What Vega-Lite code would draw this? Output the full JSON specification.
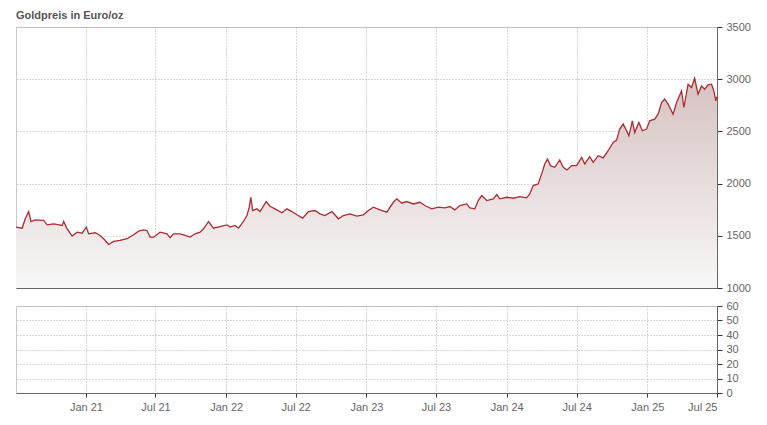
{
  "$schema": "https://vega.github.io/schema/vega-lite/v6.json",
  "background": "white",
  "padding": {"left": 12, "top": 9, "right": 5, "bottom": 5},
  "title": {"text": "Goldpreis in Euro/oz", "anchor": "start", "frame": "group", "fontSize": 11, "fontWeight": "bold", "color": "#555555", "font": "Liberation Sans", "offset": 0},
  "bounds": "flush",
  "spacing": 18,
  "datasets": {
    "gold": [
      {"date": "2020-07-03", "price": 1583},
      {"date": "2020-07-19", "price": 1573},
      {"date": "2020-07-27", "price": 1663},
      {"date": "2020-08-05", "price": 1732},
      {"date": "2020-08-11", "price": 1637},
      {"date": "2020-08-22", "price": 1653},
      {"date": "2020-09-13", "price": 1647},
      {"date": "2020-09-22", "price": 1605},
      {"date": "2020-10-09", "price": 1615},
      {"date": "2020-10-31", "price": 1599},
      {"date": "2020-11-04", "price": 1637},
      {"date": "2020-11-13", "price": 1567},
      {"date": "2020-11-26", "price": 1497},
      {"date": "2020-12-09", "price": 1535},
      {"date": "2020-12-22", "price": 1525},
      {"date": "2021-01-02", "price": 1583},
      {"date": "2021-01-08", "price": 1519},
      {"date": "2021-01-25", "price": 1529},
      {"date": "2021-02-07", "price": 1503},
      {"date": "2021-02-16", "price": 1472},
      {"date": "2021-03-01", "price": 1417},
      {"date": "2021-03-14", "price": 1446},
      {"date": "2021-03-31", "price": 1456},
      {"date": "2021-04-18", "price": 1472},
      {"date": "2021-05-05", "price": 1510},
      {"date": "2021-05-18", "price": 1544},
      {"date": "2021-05-31", "price": 1557},
      {"date": "2021-06-09", "price": 1551},
      {"date": "2021-06-17", "price": 1487},
      {"date": "2021-06-26", "price": 1487},
      {"date": "2021-07-13", "price": 1535},
      {"date": "2021-07-31", "price": 1519},
      {"date": "2021-08-08", "price": 1481},
      {"date": "2021-08-17", "price": 1519},
      {"date": "2021-09-03", "price": 1519},
      {"date": "2021-09-16", "price": 1503},
      {"date": "2021-09-29", "price": 1487},
      {"date": "2021-10-12", "price": 1519},
      {"date": "2021-10-25", "price": 1535},
      {"date": "2021-11-03", "price": 1567},
      {"date": "2021-11-16", "price": 1637},
      {"date": "2021-11-29", "price": 1573},
      {"date": "2021-12-16", "price": 1589},
      {"date": "2022-01-03", "price": 1605},
      {"date": "2022-01-11", "price": 1583},
      {"date": "2022-01-24", "price": 1599},
      {"date": "2022-02-02", "price": 1573},
      {"date": "2022-02-15", "price": 1637},
      {"date": "2022-02-24", "price": 1694},
      {"date": "2022-03-02", "price": 1774},
      {"date": "2022-03-06", "price": 1869},
      {"date": "2022-03-11", "price": 1742},
      {"date": "2022-03-22", "price": 1758},
      {"date": "2022-03-30", "price": 1732},
      {"date": "2022-04-15", "price": 1828},
      {"date": "2022-04-25", "price": 1783},
      {"date": "2022-05-08", "price": 1758},
      {"date": "2022-05-26", "price": 1720},
      {"date": "2022-06-08", "price": 1758},
      {"date": "2022-06-21", "price": 1732},
      {"date": "2022-07-04", "price": 1701},
      {"date": "2022-07-19", "price": 1669},
      {"date": "2022-08-03", "price": 1732},
      {"date": "2022-08-20", "price": 1742},
      {"date": "2022-09-02", "price": 1710},
      {"date": "2022-09-15", "price": 1694},
      {"date": "2022-10-03", "price": 1732},
      {"date": "2022-10-20", "price": 1663},
      {"date": "2022-11-02", "price": 1694},
      {"date": "2022-11-19", "price": 1710},
      {"date": "2022-12-07", "price": 1688},
      {"date": "2022-12-24", "price": 1701},
      {"date": "2023-01-06", "price": 1742},
      {"date": "2023-01-19", "price": 1774},
      {"date": "2023-02-05", "price": 1748},
      {"date": "2023-02-23", "price": 1726},
      {"date": "2023-03-12", "price": 1821},
      {"date": "2023-03-21", "price": 1854},
      {"date": "2023-04-03", "price": 1812},
      {"date": "2023-04-16", "price": 1828},
      {"date": "2023-05-03", "price": 1805},
      {"date": "2023-05-20", "price": 1821},
      {"date": "2023-06-02", "price": 1790},
      {"date": "2023-06-20", "price": 1758},
      {"date": "2023-07-07", "price": 1774},
      {"date": "2023-07-24", "price": 1767},
      {"date": "2023-08-06", "price": 1780},
      {"date": "2023-08-19", "price": 1748},
      {"date": "2023-09-01", "price": 1790},
      {"date": "2023-09-19", "price": 1805},
      {"date": "2023-09-27", "price": 1767},
      {"date": "2023-10-10", "price": 1758},
      {"date": "2023-10-19", "price": 1838},
      {"date": "2023-10-28", "price": 1885},
      {"date": "2023-11-10", "price": 1838},
      {"date": "2023-11-27", "price": 1854},
      {"date": "2023-12-06", "price": 1895},
      {"date": "2023-12-14", "price": 1854},
      {"date": "2024-01-01", "price": 1869},
      {"date": "2024-01-18", "price": 1860},
      {"date": "2024-02-04", "price": 1875},
      {"date": "2024-02-22", "price": 1863},
      {"date": "2024-03-01", "price": 1901},
      {"date": "2024-03-10", "price": 1981},
      {"date": "2024-03-23", "price": 1997},
      {"date": "2024-04-01", "price": 2093},
      {"date": "2024-04-09", "price": 2188},
      {"date": "2024-04-16", "price": 2236},
      {"date": "2024-04-24", "price": 2172},
      {"date": "2024-05-05", "price": 2156},
      {"date": "2024-05-18", "price": 2226},
      {"date": "2024-05-27", "price": 2156},
      {"date": "2024-06-06", "price": 2131},
      {"date": "2024-06-18", "price": 2172},
      {"date": "2024-07-01", "price": 2172},
      {"date": "2024-07-14", "price": 2251},
      {"date": "2024-07-22", "price": 2188},
      {"date": "2024-08-04", "price": 2258},
      {"date": "2024-08-13", "price": 2204},
      {"date": "2024-08-26", "price": 2267},
      {"date": "2024-09-08", "price": 2246},
      {"date": "2024-09-21", "price": 2315},
      {"date": "2024-10-04", "price": 2394},
      {"date": "2024-10-13", "price": 2417},
      {"date": "2024-10-21", "price": 2522},
      {"date": "2024-10-30", "price": 2570},
      {"date": "2024-11-08", "price": 2506},
      {"date": "2024-11-14", "price": 2458},
      {"date": "2024-11-23", "price": 2601},
      {"date": "2024-11-29", "price": 2490},
      {"date": "2024-12-10", "price": 2585},
      {"date": "2024-12-19", "price": 2506},
      {"date": "2024-12-30", "price": 2522},
      {"date": "2025-01-07", "price": 2601},
      {"date": "2025-01-20", "price": 2617},
      {"date": "2025-01-29", "price": 2665},
      {"date": "2025-02-07", "price": 2777},
      {"date": "2025-02-15", "price": 2809},
      {"date": "2025-02-24", "price": 2761},
      {"date": "2025-03-09", "price": 2665},
      {"date": "2025-03-18", "price": 2777},
      {"date": "2025-03-31", "price": 2888},
      {"date": "2025-04-06", "price": 2729},
      {"date": "2025-04-17", "price": 2952},
      {"date": "2025-04-26", "price": 2920},
      {"date": "2025-05-04", "price": 3009},
      {"date": "2025-05-13", "price": 2857},
      {"date": "2025-05-22", "price": 2936},
      {"date": "2025-05-30", "price": 2904},
      {"date": "2025-06-08", "price": 2946},
      {"date": "2025-06-17", "price": 2952},
      {"date": "2025-06-23", "price": 2888},
      {"date": "2025-06-28", "price": 2793},
      {"date": "2025-07-01", "price": 2833}
    ]
  },
  "vconcat": [
    {
      "width": 701,
      "height": 261,
      "data": {"name": "gold"},
      "encoding": {
        "x": {
          "field": "date", "type": "temporal",
          "scale": {"type": "utc", "domain": [{"year": 2020, "month": 7, "date": 3, "utc": true}, {"year": 2025, "month": 7, "date": 1, "hours": 6, "utc": true}]},
          "axis": {"orient": "bottom", "labels": false, "ticks": false, "title": null, "domain": true, "domainColor": "#666666", "grid": true, "gridColor": "#b0b0b0", "gridDash": [1, 2],
            "values": [{"year": 2021, "month": 1, "date": 1, "utc": true}, {"year": 2021, "month": 7, "date": 1, "utc": true}, {"year": 2022, "month": 1, "date": 1, "utc": true}, {"year": 2022, "month": 7, "date": 1, "utc": true}, {"year": 2023, "month": 1, "date": 1, "utc": true}, {"year": 2023, "month": 7, "date": 1, "utc": true}, {"year": 2024, "month": 1, "date": 1, "utc": true}, {"year": 2024, "month": 7, "date": 1, "utc": true}, {"year": 2025, "month": 1, "date": 1, "utc": true}, {"year": 2025, "month": 7, "date": 1, "utc": true}]}
        },
        "y": {
          "field": "price", "type": "quantitative",
          "scale": {"domain": [1000, 3500], "zero": false, "nice": false},
          "axis": {"orient": "right", "title": null, "format": "d", "values": [1000, 1500, 2000, 2500, 3000, 3500], "tickSize": 5, "tickColor": "#333333", "domainColor": "#666666", "labelPadding": 4, "grid": true, "gridColor": "#b0b0b0", "gridDash": [1, 2]}
        }
      },
      "layer": [
        {
          "mark": {"type": "area", "color": {"gradient": "linear", "x1": 0, "y1": 0, "x2": 0, "y2": 1, "stops": [{"offset": 0, "color": "#d6c2c2"}, {"offset": 1, "color": "#f8f7f7"}]}},
          "encoding": {"y2": {"datum": 1000}}
        },
        {
          "mark": {"type": "line", "color": "#b02a30", "strokeWidth": 1.3}
        }
      ]
    },
    {
      "width": 701,
      "height": 87,
      "data": {"name": "gold"},
      "mark": {"type": "point", "opacity": 0},
      "encoding": {
        "x": {
          "field": "date", "type": "temporal",
          "scale": {"type": "utc", "domain": [{"year": 2020, "month": 7, "date": 3, "utc": true}, {"year": 2025, "month": 7, "date": 1, "hours": 6, "utc": true}]},
          "axis": {"orient": "bottom", "title": null, "format": "%b %y", "tickSize": 4, "tickColor": "#333333", "domainColor": "#666666", "labelPadding": 4, "grid": true, "gridColor": "#b0b0b0", "gridDash": [1, 2],
            "values": [{"year": 2021, "month": 1, "date": 1, "utc": true}, {"year": 2021, "month": 7, "date": 1, "utc": true}, {"year": 2022, "month": 1, "date": 1, "utc": true}, {"year": 2022, "month": 7, "date": 1, "utc": true}, {"year": 2023, "month": 1, "date": 1, "utc": true}, {"year": 2023, "month": 7, "date": 1, "utc": true}, {"year": 2024, "month": 1, "date": 1, "utc": true}, {"year": 2024, "month": 7, "date": 1, "utc": true}, {"year": 2025, "month": 1, "date": 1, "utc": true}, {"year": 2025, "month": 7, "date": 1, "utc": true}]}
        },
        "y": {
          "datum": 0, "type": "quantitative",
          "scale": {"domain": [0, 60], "nice": false},
          "axis": {"orient": "right", "title": null, "format": "d", "values": [0, 10, 20, 30, 40, 50, 60], "tickSize": 5, "tickColor": "#333333", "domainColor": "#666666", "labelPadding": 4, "grid": true, "gridColor": "#b0b0b0", "gridDash": [1, 2]}
        }
      }
    }
  ],
  "config": {
    "view": {"stroke": "#c8c8c8", "strokeWidth": 1},
    "axis": {"labelFont": "Liberation Sans", "labelFontSize": 11, "labelColor": "#666666", "domainWidth": 1, "tickWidth": 1, "gridWidth": 1}
  }
}
